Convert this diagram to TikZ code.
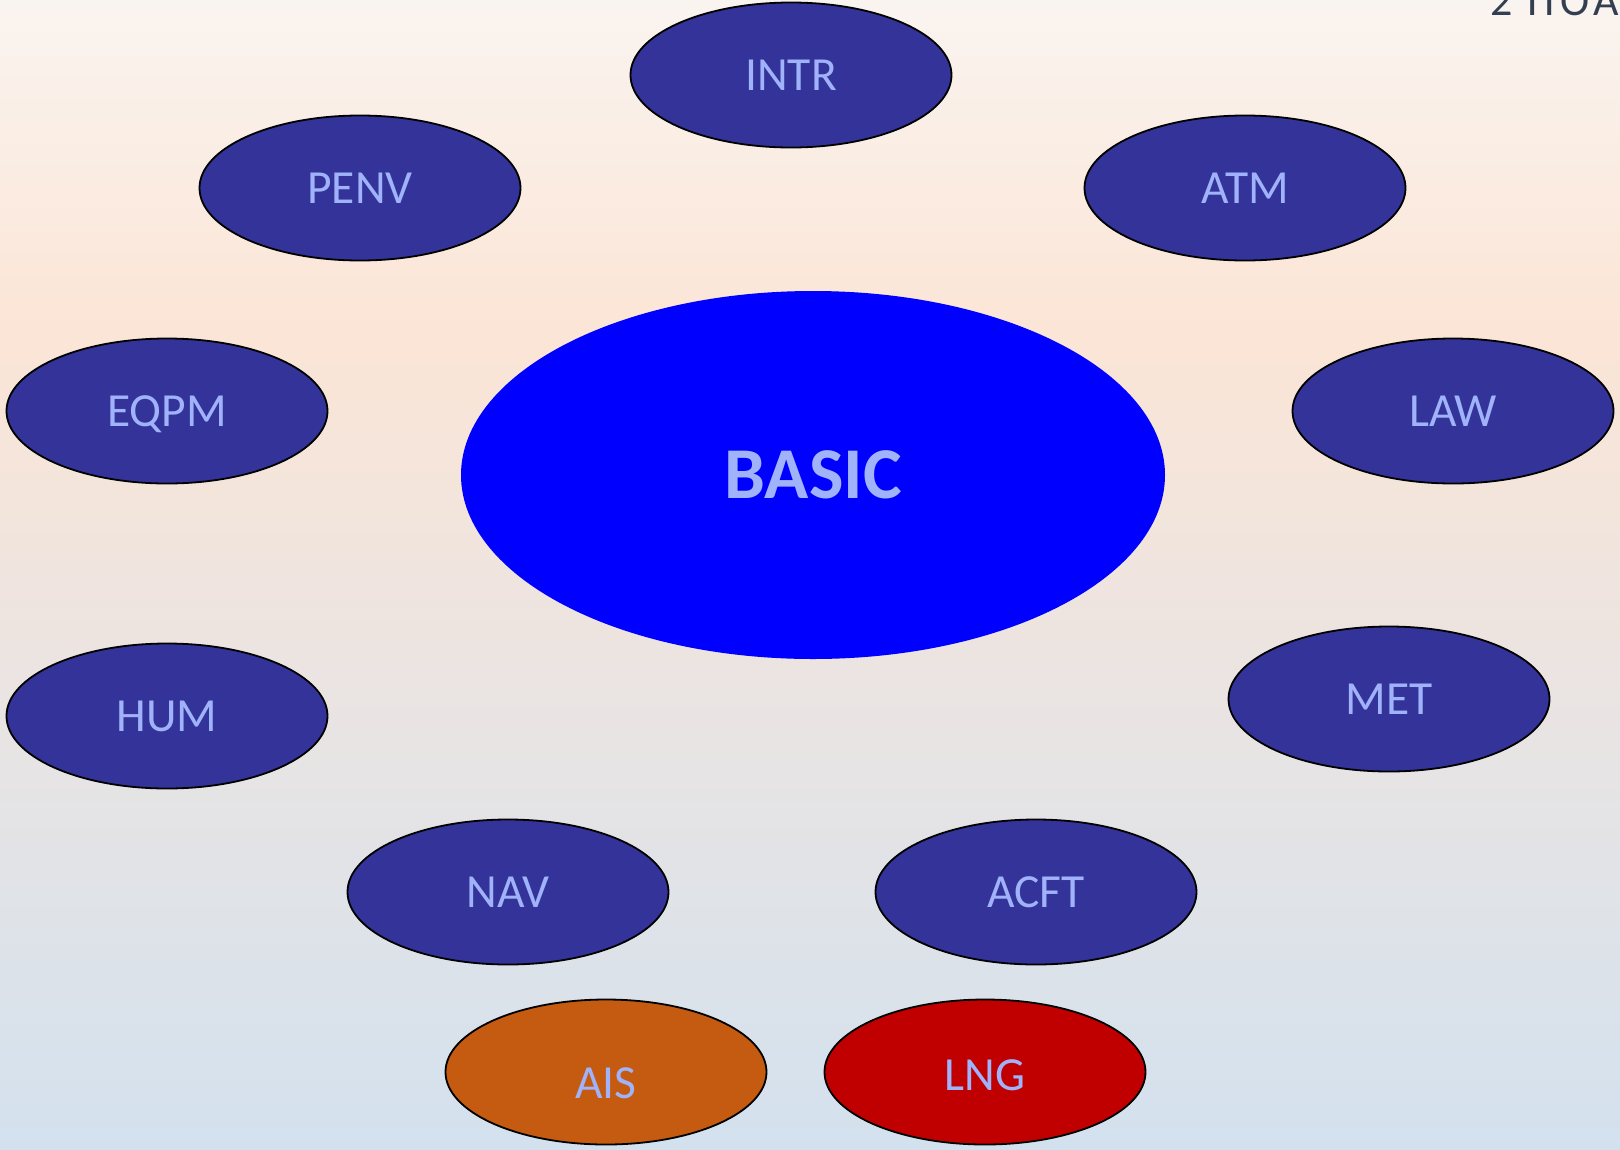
\documentclass[tikz,border=0pt]{standalone}
\usepackage{fontspec}
\setmainfont{Carlito}
\usetikzlibrary{shapes.geometric}
\definecolor{bgtop}{RGB}{250,244,240}
\definecolor{bgpeach}{RGB}{251,229,214}
\definecolor{bgmid}{RGB}{232,228,228}
\definecolor{bgbot}{RGB}{211,225,238}
\definecolor{navy}{RGB}{51,51,153}
\definecolor{labelblue}{RGB}{160,178,250}
\definecolor{aisorange}{RGB}{197,90,17}
\definecolor{lngred}{RGB}{192,0,0}
\definecolor{slate}{RGB}{51,63,80}
\tikzset{
  topic/.style={ellipse, draw=black, line width=1.8pt, fill=navy, minimum width=321pt, minimum height=145pt, inner sep=0pt, text height=31pt, text depth=0pt, text=labelblue, font=\fontsize{47.5}{50}\selectfont},
  core/.style={ellipse, fill=blue, minimum width=704pt, minimum height=368pt, inner sep=0pt, text=labelblue, font=\fontsize{73}{80}\selectfont\bfseries},
}
\begin{document}
\begin{tikzpicture}[x=1pt,y=-1pt]
\useasboundingbox (0,0) rectangle (1620,1149);
\shade[top color=bgtop, bottom color=bgpeach] (0,0) rectangle (1620,330);
\shade[top color=bgpeach, bottom color=bgmid] (0,330) rectangle (1620,740);
\shade[top color=bgmid, bottom color=bgbot] (0,740) rectangle (1620,1149);
\node[anchor=base west, inner sep=0pt, text=slate, font=\fontsize{44}{48}\selectfont\addfontfeature{LetterSpace=12}] (title) at (1490,15) {2 ПОА};
\node[core] (basic) at (813,475) {BASIC};
\node[topic] (intr) at (791,75) {INTR};
\node[topic] (penv) at (360,188) {PENV};
\node[topic] (atm) at (1245,188) {ATM};
\node[topic] (eqpm) at (167,411) {EQPM};
\node[topic] (law) at (1453,411) {LAW};
\node[topic] (hum) at (167,716) {HUM};
\node[topic] (met) at (1389,699) {MET};
\node[topic] (nav) at (508,892) {NAV};
\node[topic] (acft) at (1036,892) {ACFT};
\node[topic, fill=aisorange, text height=53pt] (ais) at (606,1072) {AIS};
\node[topic, fill=lngred, text height=37pt] (lng) at (985,1072) {LNG};
\end{tikzpicture}
\end{document}
